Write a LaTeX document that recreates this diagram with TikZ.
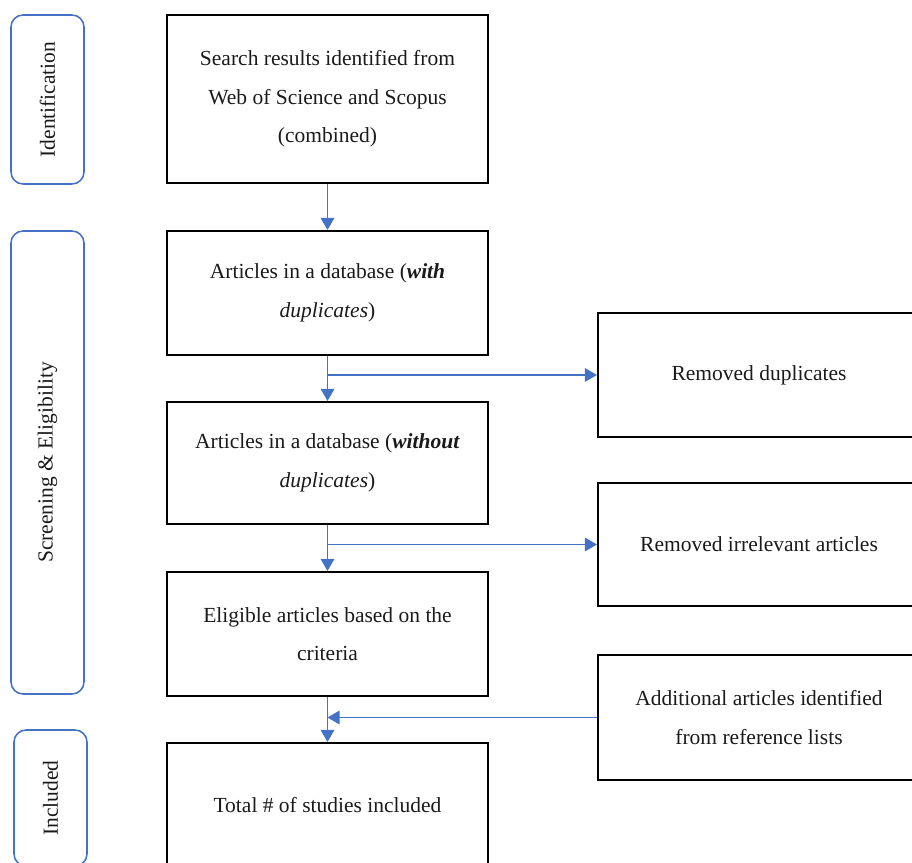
\documentclass[tikz,border=0pt]{standalone}
\usepackage{fontspec}
\setmainfont{Liberation Serif}
\usetikzlibrary{arrows.meta}
\definecolor{flowblue}{HTML}{4472C4}
\definecolor{inkgray}{HTML}{1A1A1A}

\begin{document}
\begin{tikzpicture}[arrows={-Triangle[width=0.34cm,length=0.3cm]},
	box/.style={draw=black, line width=1.5pt, align=center, inner sep=0pt, text=inkgray,
		minimum width=8.025cm, minimum height=3.1cm, font=\fontsize{15.3}{27.4}\selectfont},
	sidebox/.style={box, minimum width=8.05cm},
	stage/.style={draw=flowblue, line width=1.1pt, rounded corners=0.3cm, rotate=90,
		inner sep=0pt, text=inkgray, minimum height=1.825cm, font=\fontsize{15.3}{27.4}\selectfont},
	flow/.style={draw=flowblue, line width=0.8pt}]
	\useasboundingbox (0,0) rectangle (22.8,-21.575);
	\clip (0,0) rectangle (22.8,-21.575);

	% stages on the left
	\node[stage, minimum width=4.225cm] (S1) at (1.1875,-2.4875) {Identification};
	\node[stage, minimum width=11.575cm] (S2) at (1.1875,-11.5625) {Screening \& Eligibility};
	\node[stage, minimum width=3.4cm] (S3) at (1.2625,-19.95) {Included};

	% main column
	\node[box, minimum height=4.2cm] (B1) at (8.1875,-2.475) {Search results identified from\\Web of Science and Scopus\\(combined)};
	\node[box] (B2) at (8.1875,-7.325) {Articles in a database (\textbf{\textit{with}}\\\textit{duplicates})};
	\node[box, minimum height=3.05cm] (B3) at (8.1875,-11.575) {Articles in a database (\textbf{\textit{without}}\\\textit{duplicates})};
	\node[box] (B4) at (8.1875,-15.85) {Eligible articles based on the\\criteria};
	\node[box] (B5) at (8.1875,-20.125) {Total \# of studies included};

	% side boxes
	\node[sidebox] (R1) at (18.975,-9.375) {Removed duplicates};
	\node[sidebox, minimum height=3.075cm] (R2) at (18.975,-13.6125) {Removed irrelevant articles};
	\node[sidebox, minimum height=3.125cm] (R3) at (18.975,-17.9375) {Additional articles identified\\from reference lists};

	\coordinate (J1) at (B2.south |- R1.west);
	\coordinate (J2) at (B3.south |- R2.west);
	\coordinate (J3) at (B4.south |- R3.west);

	\draw[flow] (B1) -- (B2);
	\draw[flow] (B2) -- (B3);
	\draw[flow] (B3) -- (B4);
	\draw[flow] (B4) -- (B5);

	\draw[flow] (J1) -- (R1);
	\draw[flow] (J2) -- (R2);
	\draw[flow] (R3) -- (J3);

\end{tikzpicture}
\end{document}
